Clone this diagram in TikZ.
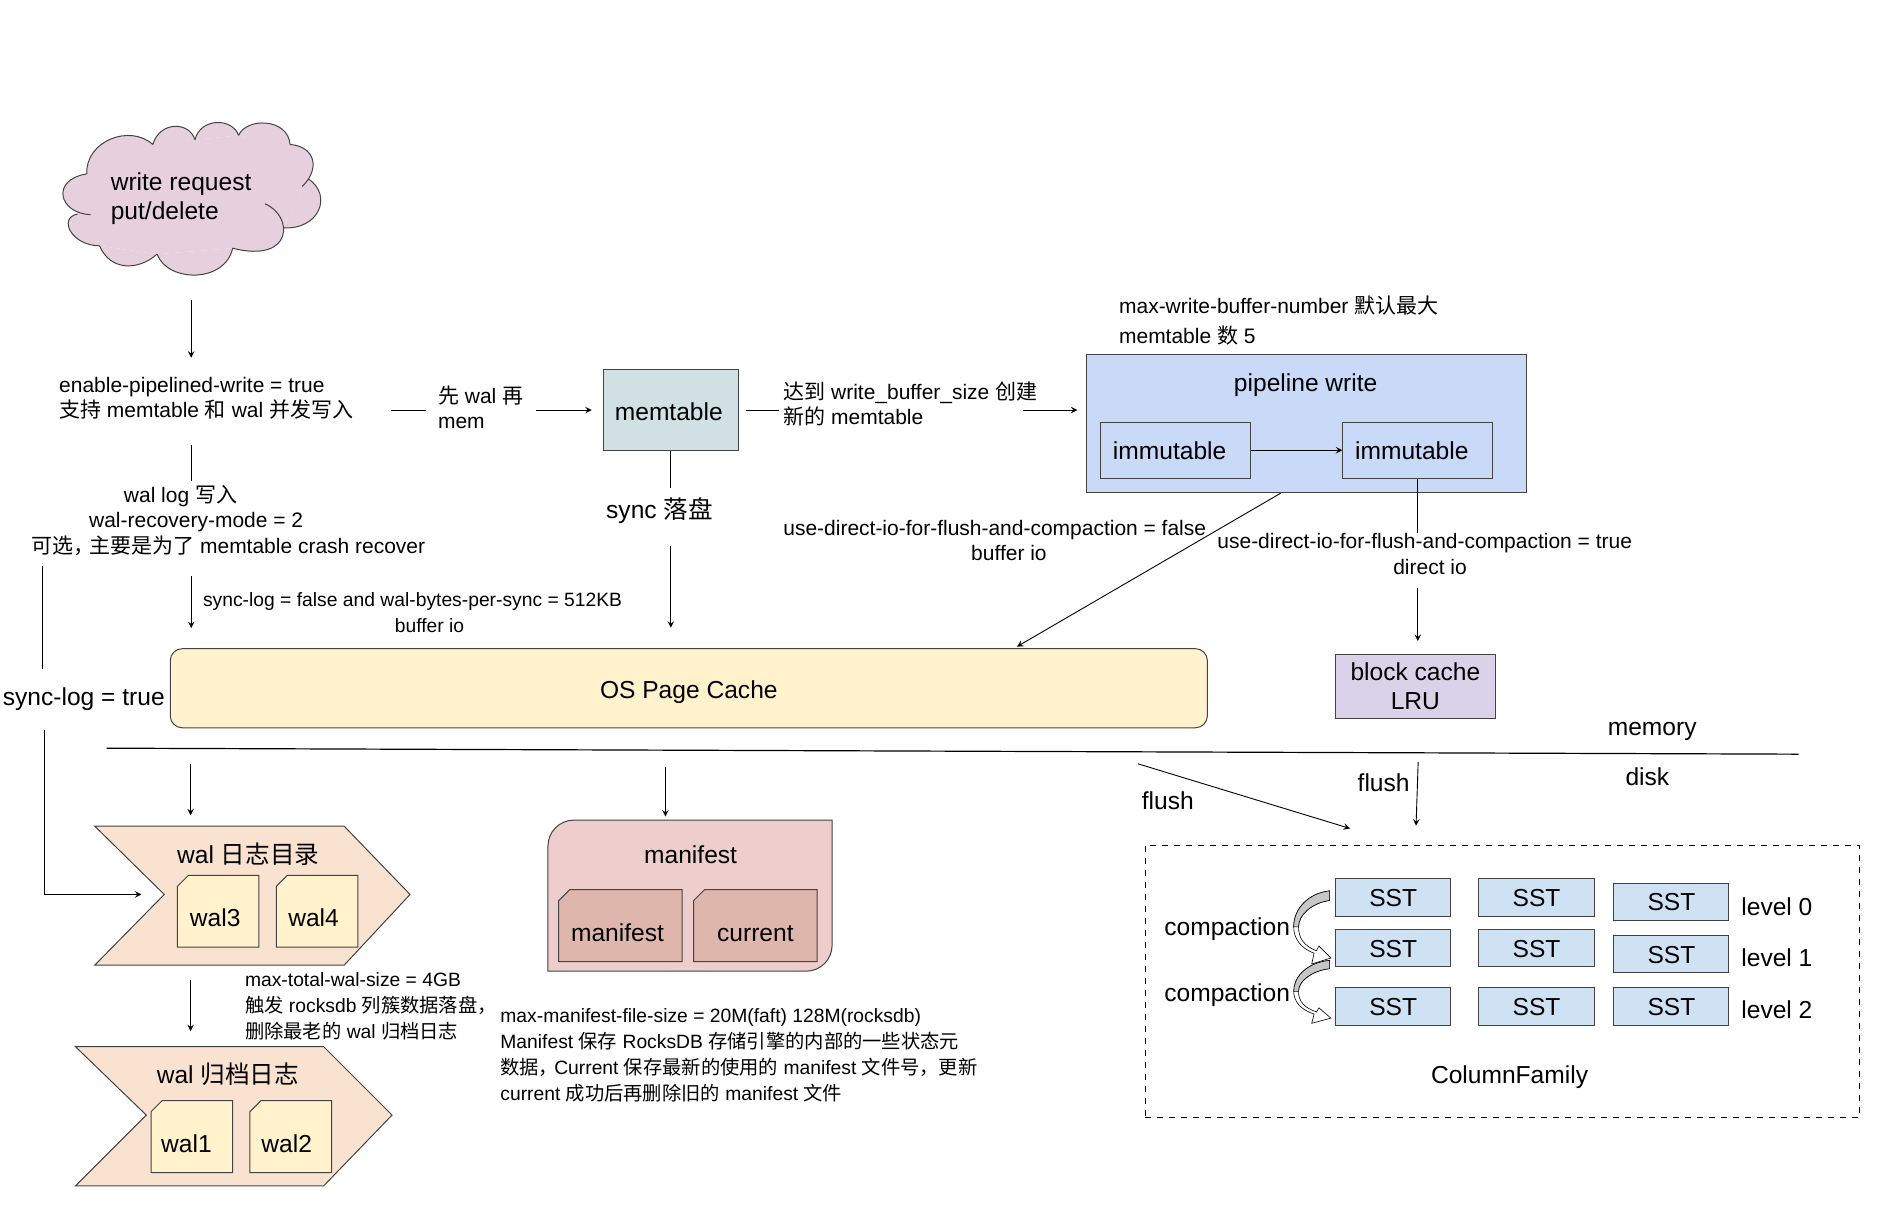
\documentclass[tikz,border=0pt]{standalone}
\usepackage{fontspec}
\setmainfont{Liberation Sans}
\newfontfamily\cjk{Noto Sans CJK SC}
\newcommand{\zh}[1]{{\cjk #1}}
\usetikzlibrary{positioning,shapes.misc}

\definecolor{cloudfill}{HTML}{E6D0DE}
\definecolor{memfill}{HTML}{D0E0E3}
\definecolor{pipefill}{HTML}{C9DAF8}
\definecolor{cachefill}{HTML}{FFF2CC}
\definecolor{blockfill}{HTML}{D9D2E9}
\definecolor{sstfill}{HTML}{CFE2F3}
\definecolor{walfill}{HTML}{F9E3D0}
\definecolor{manifill}{HTML}{EECDCD}
\definecolor{filefill}{HTML}{DFB6AC}
\definecolor{edgegray}{HTML}{434343}

\tikzset{
  bigtext/.style={inner sep=0pt,align=left,font=\fontsize{12.3}{14.6}\selectfont},
  midtext/.style={inner sep=0pt,align=left,font=\fontsize{10.5}{12.6}\selectfont},
  smalltext/.style={inner sep=0pt,align=left,font=\fontsize{9.65}{13}\selectfont},
  boxnode/.style={draw=edgegray,line width=.5pt,inner sep=0pt,align=center,font=\fontsize{12.3}{14.6}\selectfont},
  sstbox/.style={boxnode,fill=sstfill,minimum width=57.6pt,minimum height=18.6pt},
  filebox/.style={boxnode,chamfered rectangle,chamfered rectangle corners=north west,
    chamfered rectangle xsep=7pt,chamfered rectangle ysep=5.5pt},
  walfile/.style={filebox,fill=cachefill,minimum width=40.8pt,minimum height=36pt},
  manifile/.style={filebox,fill=filefill,minimum width=61.8pt,minimum height=36pt},
  arealine/.style={draw=edgegray,line width=.5pt}
}

\begin{document}
\begin{tikzpicture}[x=.6pt,y=-.6pt,>=stealth,line width=.45pt]
  \useasboundingbox (0,0) rectangle (1568,1007.5);

  % cloud with the write request
  \fill[cloudfill] (72,145) -- (127,120) -- (199,113) -- (242,120) -- (257,149) -- (236,190)
    -- (194,207) -- (131,212) -- (83,205) -- (64,178) -- cycle;
  \path[fill=cloudfill,arealine]
    (72.4,145) .. controls (71,118) and (108,103) .. (127.5,120.5)
    (127.5,120.5) .. controls (133,101) and (158,101) .. (162.6,116.6)
    (162.6,116.6) .. controls (167,98) and (194,98) .. (199,113)
    (199,113) .. controls (205,98) and (240,98) .. (242,120.5)
    (242,120.5) .. controls (262,122) and (268,140) .. (252,155.6)
    (257,149) .. controls (278,163) and (266,192) .. (236,190)
    (221,170) .. controls (245,180) and (245,220) .. (194,207)
    (194,207) .. controls (188,236) and (140,236) .. (131,212)
    (131,212) .. controls (115,226) and (92,226) .. (83,205)
    (83,205) .. controls (60,205) and (48,182) .. (64.6,178.5)
    (72.4,145) .. controls (42,150) and (49,178) .. (75.5,179);
  \node[minimum width=129pt,minimum height=77.4pt,inner sep=0pt] (reqcloud) at (159.5,166.5) {};
  \node[bigtext,anchor=west] (reqtext) at (92,166) {write request\\put/delete};

  % text labels
  \node[midtext,anchor=west] (pipetext) at (49,332) {enable-pipelined-write = true\\\zh{支持} memtable \zh{和} wal \zh{并发写入}};
  \node[midtext,anchor=west] (waltext) at (365,340) {\zh{先} wal \zh{再}\\mem};
  \node[midtext,anchor=west] (walog) at (26,434) {\hspace*{46.2pt}wal log \zh{写入}\\\hspace*{28.8pt}wal-recovery-mode = 2\\\zh{可选，}\hspace{-2.6pt}\zh{主要是为了} memtable crash recover};
  \node[smalltext,anchor=west] (bufferlog) at (169,511) {sync-log = false and wal-bytes-per-sync = 512KB\\\hspace*{96pt}buffer io};
  \node[bigtext,anchor=west] (synclog) at (2,583) {sync-log = true};
  \node[bigtext] (syncdisk) at (550,426) {sync \zh{落盘}};
  \node[midtext,anchor=west] (sizetext) at (653,337) {\zh{达到} write\_buffer\_size \zh{创建}\\\zh{新的} memtable};
  \node[midtext,anchor=west] (numtext) at (933,267) {max-write-buffer-number \zh{默认最大}\\[2.4pt]memtable \zh{数} 5};
  \node[midtext,anchor=west] (buffertext) at (653,451) {use-direct-io-for-flush-and-compaction = false\\\hspace*{94pt}buffer io};
  \node[midtext,anchor=west] (directtext) at (1015,462) {use-direct-io-for-flush-and-compaction = true\\\hspace*{88pt}direct io};

  % memory side boxes
  \node[boxnode,fill=memfill,minimum width=67.8pt,minimum height=40.8pt] (memtable) at (559.5,342) {\raisebox{-5pt}[0pt][0pt]{memtable\hspace*{2pt}}};
  \node[boxnode,fill=pipefill,minimum width=220.2pt,minimum height=69pt] (pipeline) at (1089.5,353.5) {};
  \node[bigtext] (pipetitle) at (1089,321) {pipeline write};
  \node[boxnode,minimum width=75pt,minimum height=28.2pt] (immone) at (980.5,375.5) {immutable\hspace*{6pt}};
  \node[boxnode,minimum width=75pt,minimum height=28.2pt] (immtwo) at (1182.5,375.5) {immutable\hspace*{6pt}};
  \node[boxnode,fill=cachefill,rounded corners=6pt,minimum width=519pt,minimum height=39.6pt] (oscache) at (574.5,574) {\raisebox{-5pt}[0pt][0pt]{OS Page Cache}};
  \node[boxnode,fill=blockfill,minimum width=79.8pt,minimum height=31.8pt] (blockcache) at (1180.5,572.5) {block cache\\LRU};

  % memory and disk
  \coordinate (divleft) at (89,624);
  \coordinate (divright) at (1500,629);
  \draw[line width=.6pt] (divleft) -- (divright);
  \node[bigtext] (memlabel) at (1378,610) {memory};
  \node[bigtext] (disklabel) at (1374,648) {disk};
  \node[bigtext] (flushleft) at (974,668) {flush};
  \node[bigtext] (flushright) at (1154,653) {flush};

  % wal directories
  \path[fill=walfill,arealine] (79,689) -- (287,689) -- (342,746) -- (287,805) -- (79,805) -- (137,746) -- cycle;
  \path[fill=walfill,arealine] (63,873) -- (270,873) -- (327,930) -- (270,989) -- (63,989) -- (122,930) -- cycle;
  \coordinate (walin) at (159,689);
  \coordinate (walnotch) at (137,746);
  \coordinate (walout) at (159,805);
  \coordinate (archin) at (159,873);
  \node[bigtext] (waldir) at (207,712) {wal \zh{日志目录}};
  \node[bigtext] (archdir) at (190,896) {wal \zh{归档日志}};
  \foreach \name/\x/\y/\gap in {wal3/182/760/3pt,wal4/264.5/760/3.6pt,wal1/160/948/5.4pt,wal2/242.5/948/4pt}
    \node[walfile] (\name) at (\x,\y) {\raisebox{-7.8pt}[0pt][0pt]{\name\hspace*{\gap}}};
  \node[smalltext,anchor=west] (walsize) at (204,839.5) {max-total-wal-size = 4GB\\\zh{触发} rocksdb \zh{列簇数据落盘，}\\\zh{删除最老的} wal \zh{归档日志}};

  % manifest
  \path[fill=manifill,arealine] (457,810) [rounded corners=13pt] -- (457,684) [sharp corners] -- (694,684)
    [rounded corners=13pt] -- (694,810) [sharp corners] -- cycle;
  \coordinate (maniin) at (555,684);
  \node[bigtext] (manititle) at (576,713) {manifest};
  \node[manifile] (manifile) at (517.5,772) {\raisebox{-7.8pt}[0pt][0pt]{manifest\hspace*{3pt}}};
  \node[manifile] (currentfile) at (630,772) {\raisebox{-7.8pt}[0pt][0pt]{current}};
  \node[smalltext,anchor=west] (manitext) at (417,880) {max-manifest-file-size = 20M(faft) 128M(rocksdb)\\Manifest \zh{保存} RocksDB \zh{存储引擎的内部的一些状态元}\\\zh{数据，}\hspace{-2pt}Current \zh{保存最新的使用的} manifest \zh{文件号，更新}\\current \zh{成功后再删除旧的} manifest \zh{文件}};

  % column family
  \node[draw,dashed,line width=.45pt,minimum width=357.6pt,minimum height=136.2pt,inner sep=0pt] (cfbox) at (1253,818.5) {};
  \foreach \name/\x/\y in {a/1162/748.5,b/1281.5/748.5,c/1394/752,
                           d/1162/791,e/1281.5/791,f/1394/796,
                           g/1162/839.5,h/1281.5/839.5,i/1394/839.5}
    \node[sstbox] (sst\name) at (\x,\y) {\raisebox{-4.5pt}[0pt][0pt]{SST}};
  \foreach \lvl/\y in {0/756,1/799,2/842}
    \node[bigtext,anchor=west] (level\lvl) at (1452,\y) {level \lvl};
  \node[bigtext] (compone) at (1023.5,775) {compaction};
  \node[bigtext] (comptwo) at (1023.5,830) {compaction};
  \node[bigtext] (cftitle) at (1259,898) {ColumnFamily};
  % curved compaction arrows
  \foreach \ay/\ys in {743/1,801/.86} {
    \begin{scope}[shift={(1079,\ay)},yscale=\ys,line width=.3pt]
      \draw[fill=white] (30,0) .. controls (12,2) and (0,15) .. (0,30) .. controls (0,40) and (6,48) .. (17,52)
        -- (15,61) -- (31,56) -- (21,46) -- (19,50) .. controls (9,46) and (4,40) .. (4,30)
        .. controls (4,20) and (15,10) .. (30,8) -- cycle;
      \draw[fill=black!22] (30,0) .. controls (12,2) and (0,15) .. (0,30) -- (4,30)
        .. controls (4,20) and (15,10) .. (30,8) -- cycle;
    \end{scope}
  }

  % connectors on the write path
  \draw[->,shorten <=11.4pt,shorten >=9.4pt] (reqcloud.south) -- (reqcloud.south |- pipetext.north);
  \draw[shorten <=18.6pt,shorten >=6pt] (pipetext.east |- memtable.west) -- (waltext.west |- memtable.west);
  \draw[->,shorten <=6pt,shorten >=5.4pt] (waltext.east |- memtable.west) -- (memtable.west);
  \draw[shorten <=12.6pt,shorten >=2pt] (reqcloud.south |- pipetext.south) -- (reqcloud.south |- walog.north);
  \draw[->,shorten <=10pt,shorten >=10pt] (reqcloud.south |- walog.south) -- (reqcloud.south |- oscache.north);
  \draw[shorten <=5pt,shorten >=9pt] ([xshift=5.4pt]walog.south west) -- ([xshift=5.4pt]walog.south west |- synclog.north);
  \draw[->,shorten <=9.6pt,shorten >=11.4pt] ([xshift=21pt]synclog.south west) |- (walnotch);
  \draw[shorten <=3.6pt,shorten >=1.8pt] (memtable.east) -- (sizetext.west |- memtable.east);
  \draw[->,shorten <=-7.2pt,shorten >=4.2pt] (sizetext.east |- memtable.east) -- (pipeline.west |- memtable.east);
  \draw[shorten >=4.8pt] (memtable.south) -- (memtable.south |- syncdisk.north);
  \draw[->,shorten <=10.8pt,shorten >=10.2pt] (memtable.south |- syncdisk.south) -- (memtable.south |- oscache.north);
  \draw[->] (immone.east) -- (immtwo.west);
  \draw[->,shorten >=1.5pt] ([xshift=-12.9pt]pipeline.south) -- ([xshift=162.9pt]oscache.north);
  \draw (immtwo.south) -- (immtwo.south |- directtext.north);
  \draw[->,shorten <=6.6pt,shorten >=6.6pt] (immtwo.south |- directtext.south) -- (immtwo.south |- blockcache.north);

  % connectors from memory to disk
  \draw[->,shorten <=18pt,shorten >=5.4pt] (walin |- oscache.south) -- (walin);
  \draw[->,shorten <=19.2pt,shorten >=1.8pt] (maniin |- oscache.south) -- (maniin);
  \draw[->,shorten <=7.2pt,shorten >=7.8pt] (walout) -- (archin);
  \coordinate (flushfrom) at (949,637);
  \coordinate (flushto) at (1126,691);
  \draw[->] (flushfrom) -- (flushto);
  \draw[->,shorten <=21.6pt,shorten >=9.6pt] ([xshift=2.1pt]blockcache.south) -- (blockcache.south |- cfbox.north);
\end{tikzpicture}
\end{document}
